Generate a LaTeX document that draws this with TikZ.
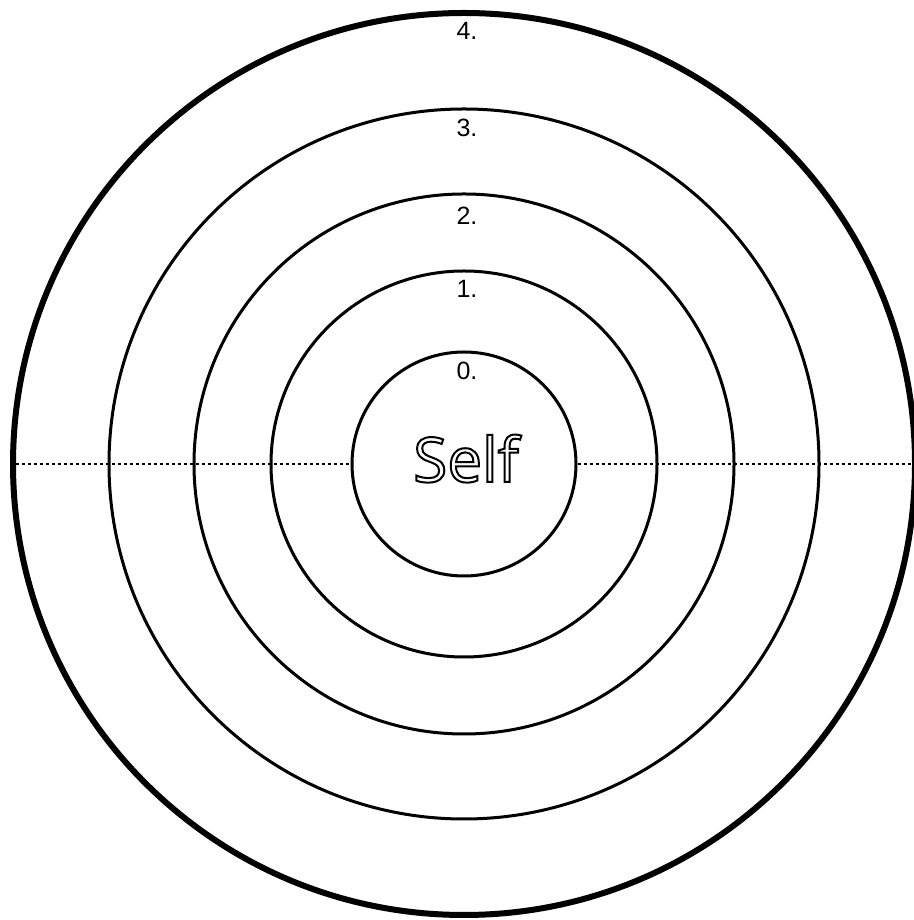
\documentclass[tikz,border=0pt]{standalone}
\usepackage{fontspec}
\setmainfont{Liberation Sans}
\newfontfamily\selffont{Open Sans}
\newcommand\outlinetext[1]{\special{pdf:literal direct 1 Tr 2 w}#1\special{pdf:literal direct 0 Tr}}
\begin{document}
\begin{tikzpicture}[x=1pt,y=1pt,
  ring/.style={circle,draw=black,line width=3pt,inner sep=0pt,minimum size=#1},
  outerring/.style={circle,draw=black,line width=6pt,inner sep=0pt,minimum size=#1},
  lbl/.style={anchor=north,inner sep=0pt,font=\fontsize{25}{25}\selectfont},
  axis/.style={line width=1.4pt,dash pattern=on 3pt off 3pt}]
\useasboundingbox (0,0) rectangle (913,920);
\fill[white] (0,0) rectangle (913,920);
\node[outerring=902pt] (c4) at (464,456) {};
\node[ring=710pt] (c3) at (464,456) {};
\node[ring=540pt] (c2) at (464,456) {};
\node[ring=386pt] (c1) at (464,456) {};
\node[ring=224pt,fill=white] (c0) at (464,456) {};
\coordinate (rightend) at (913,456);
\draw[axis] (c4.west) -- (c0.west);
\draw[axis] (c0.east) -- (rightend);
\node[lbl] (l4) at (467,898) {4.};
\node[lbl] (l3) at (467,801) {3.};
\node[lbl] (l2) at (467,713) {2.};
\node[lbl] (l1) at (467,640) {1.};
\node[lbl] (l0) at (467,558) {0.};
\node[anchor=base,inner sep=0pt,font=\selffont\fontsize{62}{62}\selectfont] (self) at (466,438) {\outlinetext{Self}};
\end{tikzpicture}
\end{document}
